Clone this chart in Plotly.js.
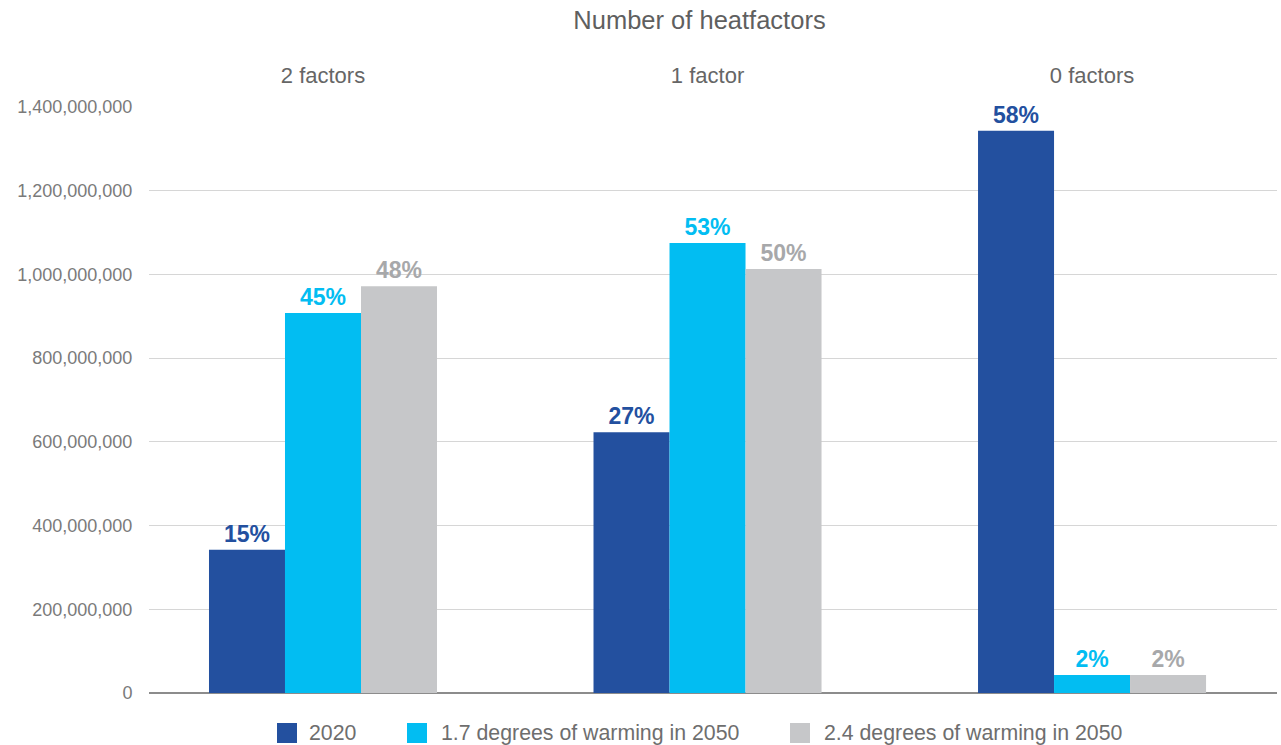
<!DOCTYPE html>
<html>
<head>
<meta charset="utf-8">
<script src="https://cdn.plot.ly/plotly-3.0.1.min.js"></script>
<style>
  html, body { margin: 0; padding: 0; background: #ffffff; }
  #chart { width: 1281px; height: 745px; }
</style>
</head>
<body>
<div id="chart"></div>
<script>
// ---- data ----
var categories = ['2 factors', '1 factor', '0 factors'];
var seriesNames = ['2020', '1.7 degrees of warming in 2050', '2.4 degrees of warming in 2050'];
var values2020 = [342000000, 623000000, 1343000000];
var values17 = [908000000, 1075000000, 43000000];
var values24 = [972000000, 1013000000, 43000000];
var labels2020 = ['15%', '27%', '58%'];
var labels17 = ['45%', '53%', '2%'];
var labels24 = ['48%', '50%', '2%'];
var barColors = ['#23509f', '#02bdf2', '#c6c7c9'];
var labelColors = ['#23509f', '#02bdf2', '#a7a8aa'];
var yTickValues = [0, 200000000, 400000000, 600000000, 800000000, 1000000000, 1200000000, 1400000000];

var FONT = 'Liberation Sans, Arial, sans-serif';
var seriesValues = [values2020, values17, values24];
var seriesLabels = [labels2020, labels17, labels24];

var traces = seriesNames.map(function (name, i) {
  return {
    type: 'bar',
    name: name,
    x: categories,
    y: seriesValues[i],
    text: seriesLabels[i],
    textposition: 'outside',
    textfont: { family: FONT, size: 23, color: labelColors[i], weight: 'bold' },
    marker: { color: barColors[i], line: { width: 0 } },
    cliponaxis: false,
    showlegend: false,
    hoverinfo: 'skip'
  };
});

// plot-area pixel geometry helpers for the custom legend
var L = 149, R = 1277, T = 107, B = 693;
function px(x) { return (x - L) / (R - L); }
function py(y) { return (B - y) / (B - T); }

var legendSwatchX = [277, 407, 790];
var legendTextX = [307, 439, 822];
var legendY = 733;

var shapes = [];
var annotations = [];
seriesNames.forEach(function (name, i) {
  shapes.push({
    type: 'rect', xref: 'paper', yref: 'paper',
    x0: px(legendSwatchX[i]), x1: px(legendSwatchX[i] + 20),
    y0: py(legendY - 10), y1: py(legendY + 10),
    fillcolor: barColors[i], line: { width: 0 }
  });
  annotations.push({
    xref: 'paper', yref: 'paper',
    x: px(legendTextX[i]), y: py(legendY),
    xanchor: 'left', yanchor: 'middle',
    text: name, showarrow: false,
    font: { family: FONT, size: 21.3, color: '#6e6e6e' }
  });
});

var layout = {
  width: 1281,
  height: 745,
  margin: { l: L, r: 1281 - R, t: T, b: 745 - B },
  paper_bgcolor: '#ffffff',
  plot_bgcolor: '#ffffff',
  font: { family: FONT, color: '#666666' },
  title: {
    text: 'Number of heatfactors',
    x: 699.5 / 1281, xref: 'container', xanchor: 'center',
    y: 1 - 20 / 745, yref: 'container', yanchor: 'middle',
    font: { family: FONT, size: 25.5, color: '#5f5f5f' }
  },
  barmode: 'group',
  bargap: 0.407,
  bargroupgap: 0,
  hovermode: false,
  showlegend: false,
  xaxis: {
    type: 'category',
    side: 'top',
    range: [-0.4525, 2.481],
    showgrid: false,
    showline: false,
    zeroline: false,
    ticks: 'outside',
    ticklen: 14,
    tickcolor: 'rgba(0,0,0,0)',
    tickfont: { family: FONT, size: 22, color: '#666666' }
  },
  yaxis: {
    range: [0, 1400000000],
    tickvals: yTickValues,
    tickformat: ',d',
    showgrid: true,
    gridcolor: '#d6d6d6',
    gridwidth: 1,
    zeroline: true,
    zerolinecolor: '#8c8c8c',
    zerolinewidth: 1.5,
    showline: false,
    ticks: 'outside',
    ticklen: 12,
    tickcolor: 'rgba(0,0,0,0)',
    tickfont: { family: FONT, size: 18, color: '#7a7a7a' }
  },
  shapes: shapes,
  annotations: annotations
};

Plotly.newPlot('chart', traces, layout, { displayModeBar: false, staticPlot: true });
</script>
</body>
</html>
